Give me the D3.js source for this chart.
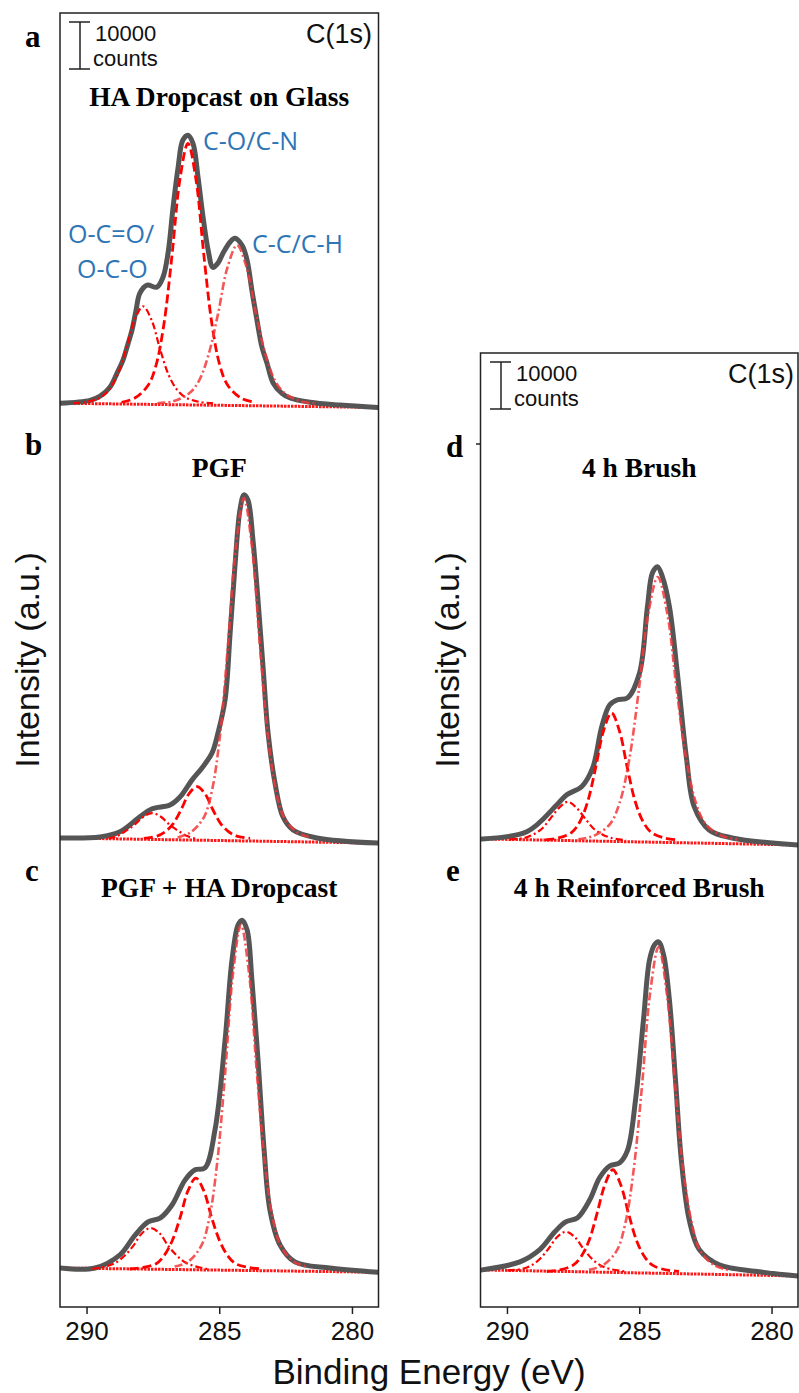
<!DOCTYPE html>
<html>
<head>
<meta charset="utf-8">
<script src="https://cdn.jsdelivr.net/npm/d3@7"></script>
<style>
  body { margin: 0; background: #fff; }
  svg { display: block; }
</style>
</head>
<body>
<script>
// ---- data (binding energy in eV, intensity in counts above each panel's zero) ----
const energyTicks = [290, 285, 280];
const panelLetters = ["a", "b", "c", "d", "e"];
const panelTitles = ["HA Dropcast on Glass", "PGF", "PGF + HA Dropcast", "4 h Brush", "4 h Reinforced Brush"];
const peakLabels = ["O-C=O/", "O-C-O", "C-O/C-N", "C-C/C-H"];
const scaleBarCounts = 10000;
// vertical stacking offset of each panel (counts)
const panelOffsets = [192300, 99800, 8300, 99600, 7900];

// measured envelopes
const envA = [[291.00,0],[289.87,600],[289.49,1500],[289.12,3400],[288.85,6400],[288.63,9100],[288.44,12600],[288.29,15500],[288.14,19600],[287.99,23400],[287.72,25100],[287.35,24700],[287.12,26800],[286.93,31900],[286.74,41700],[286.55,50200],[286.37,56000],[286.18,57000],[285.99,55300],[285.80,48100],[285.61,39600],[285.42,32600],[285.24,28900],[285.05,29800],[284.86,31900],[284.59,34300],[284.41,35100],[284.14,33600],[283.95,30400],[283.77,24000],[283.58,17700],[283.39,11900],[283.20,8500],[282.97,4300],[282.64,2100],[282.33,1100],[281.58,200],[280.45,-400],[279.02,-900]];
const envB = [[291.00,0],[289.49,200],[288.74,1300],[287.99,4500],[287.53,6200],[286.86,7000],[286.48,8700],[286.03,12300],[285.65,14900],[285.27,18100],[285.05,22300],[284.78,29400],[284.59,43600],[284.41,57700],[284.22,69800],[284.07,73000],[283.92,71900],[283.73,63400],[283.54,50600],[283.35,36400],[283.16,22300],[282.90,11700],[282.60,4500],[282.22,1700],[281.32,0],[279.02,-1100]];
const envC = [[291.00,0],[289.68,0],[288.74,2800],[288.17,7000],[287.68,9800],[287.23,10600],[286.78,13400],[286.29,18700],[285.91,20900],[285.54,21300],[285.16,29400],[284.78,48500],[284.52,65500],[284.29,73000],[284.14,74000],[283.95,71900],[283.77,61300],[283.54,44300],[283.31,25100],[283.09,12300],[282.71,4900],[282.15,1300],[280.83,0],[279.02,-900]];
const envD = [[290.94,0],[289.25,1500],[288.12,7200],[287.74,9400],[287.18,11100],[286.76,15100],[286.42,23800],[286.12,28500],[285.82,29600],[285.44,30000],[284.99,35300],[284.69,49400],[284.50,56600],[284.31,57900],[284.12,55700],[283.86,49400],[283.56,35300],[283.22,17400],[282.92,6800],[282.36,1900],[281.49,200],[279.00,-1300]];
const envE = [[290.94,0],[289.51,1700],[288.76,4300],[288.19,8100],[287.78,10200],[287.33,11100],[286.87,14900],[286.50,19600],[286.12,22100],[285.74,22800],[285.44,25500],[285.14,36200],[284.84,53200],[284.61,66000],[284.42,69200],[284.27,69800],[284.08,67000],[283.86,57400],[283.63,40400],[283.41,23400],[283.11,10600],[282.73,4300],[281.98,1100],[280.47,-400],[279.00,-1300]];

// fitted components: O-C=O / O-C-O, C-O / C-N, C-C / C-H
const compA_OCO = [[290.50,0],[289.97,300],[289.45,1300],[289.13,3000],[288.82,6200],[288.50,11700],[288.19,17700],[287.87,20600],[287.55,17700],[287.24,11700],[286.92,6200],[286.61,3000],[286.29,1300],[285.77,300],[285.24,0]];
const compA_CO = [[288.68,200],[288.18,1100],[287.68,3800],[287.38,8100],[287.08,17000],[286.78,31500],[286.48,47700],[286.18,55300],[285.88,47700],[285.58,31500],[285.28,17000],[284.98,8100],[284.68,3800],[284.18,1100],[283.68,200]];
const compA_CC = [[287.33,0],[286.73,400],[286.13,2100],[285.77,4700],[285.41,10200],[285.05,18900],[284.69,28900],[284.33,33600],[283.97,28900],[283.61,18900],[283.25,10200],[282.89,4700],[282.53,2100],[281.93,400],[281.33,0]];

const compB_OCO = [[289.18,-100],[288.85,400],[288.52,1500],[288.19,2800],[287.86,4500],[287.53,5300],[287.20,4500],[286.87,2800],[286.54,1500],[286.21,400],[285.88,-200]];
const compB_CO = [[287.84,-100],[287.34,400],[287.04,1300],[286.74,3000],[286.44,6000],[286.14,9400],[285.84,10900],[285.54,9400],[285.24,6000],[284.94,3000],[284.64,1300],[284.34,400],[283.84,-100]];
const compB_CC = [[286.57,100],[286.07,1200],[285.57,4500],[285.27,10200],[284.97,21900],[284.67,41100],[284.37,62100],[284.07,72300],[283.77,62100],[283.47,41100],[283.17,21900],[282.87,10200],[282.57,4500],[282.07,1200],[281.57,100]];

const compC_OCO = [[289.78,-200],[289.23,400],[288.90,1100],[288.57,2600],[288.24,4700],[287.91,7400],[287.58,8500],[287.25,7400],[286.92,4700],[286.59,2600],[286.26,1100],[285.93,400],[285.38,-300]];
const compC_CO = [[288.38,-200],[287.88,100],[287.38,900],[287.08,2600],[286.78,5700],[286.48,10600],[286.18,16400],[285.88,19100],[285.58,16400],[285.28,10600],[284.98,5700],[284.68,2600],[284.38,900],[283.88,100],[283.38,-200]];
const compC_CC = [[286.68,300],[286.18,1300],[285.68,4700],[285.38,10400],[285.08,22300],[284.78,41300],[284.48,62800],[284.18,73000],[283.88,62800],[283.58,41300],[283.28,22300],[282.98,10400],[282.68,4700],[282.18,1300],[281.68,300]];

const compD_OCO = [[289.90,-100],[289.35,200],[289.02,900],[288.69,2100],[288.36,4300],[288.03,6600],[287.70,7900],[287.37,6600],[287.04,4300],[286.71,2100],[286.38,900],[286.05,200],[285.50,-300]];
const compD_CO = [[288.55,-200],[288.05,200],[287.55,1400],[287.25,3600],[286.95,7900],[286.65,15100],[286.35,23000],[286.05,26800],[285.75,23000],[285.45,15100],[285.15,7900],[284.85,3600],[284.55,1400],[284.05,200],[283.55,-200]];
const compD_CC = [[287.30,-100],[286.70,700],[286.10,3200],[285.74,7700],[285.38,16800],[285.02,31500],[284.66,47900],[284.30,55700],[283.94,47900],[283.58,31500],[283.22,16800],[282.86,7700],[282.50,3200],[281.90,700],[281.30,-100]];

const compE_OCO = [[289.97,-100],[289.42,200],[289.09,900],[288.76,2300],[288.43,4500],[288.10,7000],[287.77,8100],[287.44,7000],[287.11,4500],[286.78,2300],[286.45,900],[286.12,200],[285.57,-300]];
const compE_CO = [[288.50,-300],[288.00,0],[287.50,1000],[287.20,2800],[286.90,6200],[286.60,11900],[286.30,18100],[286.00,21300],[285.70,18100],[285.40,11900],[285.10,6200],[284.80,2800],[284.50,1000],[284.00,0],[283.50,-300]];
const compE_CC = [[286.90,0],[286.37,1000],[285.85,4100],[285.53,9800],[285.22,20900],[284.90,38900],[284.59,58900],[284.27,68700],[283.96,58900],[283.64,38900],[283.33,20900],[283.01,9800],[282.70,4100],[282.17,1000],[281.65,0]];

// backgrounds
const bgA = [[291,0],[279,-900]];
const bgB = [[291,0],[279,-1100]];
const bgC = [[291,0],[279,-900]];
const bgD = [[291,0],[279,-1300]];
const bgE = [[291,0],[279,-1300]];

// ---- layout ----
const W = 799, H = 1393;
const PX_PER_10K = 47;

const columns = [
  { x0: 60, x1: 378.5, top: 13, bottom: 1307, letterX: 25, barX: 80, cLabelX: 372, intensityX: 39 },
  { x0: 480.5, x1: 798, top: 353, bottom: 1307, letterX: 446, barX: 501, cLabelX: 794, intensityX: 459 }
];

const panels = [
  { col: 0, env: envA, comps: [compA_OCO, compA_CO, compA_CC], bg: bgA, letterY: 47, titleY: 106 },
  { col: 0, env: envB, comps: [compB_OCO, compB_CO, compB_CC], bg: bgB, letterY: 455, titleY: 477 },
  { col: 0, env: envC, comps: [compC_OCO, compC_CO, compC_CC], bg: bgC, letterY: 881, titleY: 897 },
  { col: 1, env: envD, comps: [compD_OCO, compD_CO, compD_CC], bg: bgD, letterY: 457, titleY: 477 },
  { col: 1, env: envE, comps: [compE_OCO, compE_CO, compE_CC], bg: bgE, letterY: 881, titleY: 897 }
];

const compStyles = [
  { stroke: "#ff0000", width: 2.2, dash: "7,3,2,3", opacity: 1 },
  { stroke: "#ff0000", width: 2.8, dash: "9,4", opacity: 1 },
  { stroke: "#f23a3a", width: 2.6, dash: "8,3,2,3", opacity: 0.85 }
];

const svg = d3.select("body").append("svg")
  .attr("width", W)
  .attr("height", H)
  .style("font-family", "'Liberation Sans', Arial, sans-serif");

columns.forEach((c, ci) => {
  const maxCounts = (c.bottom - c.top) / PX_PER_10K * scaleBarCounts;
  c.x = d3.scaleLinear().domain([291, 279]).range([c.x0, c.x1]);
  c.y = d3.scaleLinear().domain([0, maxCounts]).range([c.bottom, c.top]);

  svg.append("clipPath").attr("id", "clip" + ci)
    .append("rect")
    .attr("x", c.x0).attr("y", c.top)
    .attr("width", c.x1 - c.x0).attr("height", c.bottom - c.top);

  c.g = svg.append("g").attr("clip-path", `url(#clip${ci})`);
});

panels.forEach((p, i) => {
  const c = columns[p.col];
  const off = panelOffsets[i];
  const line = d3.line()
    .x(d => c.x(d[0]))
    .y(d => c.y(d[1] + off))
    .curve(d3.curveCatmullRom.alpha(0.5));

  // background
  c.g.append("path")
    .attr("d", d3.line().x(d => c.x(d[0])).y(d => c.y(d[1] + off))(p.bg))
    .attr("fill", "none")
    .attr("stroke", "#ff1a1a")
    .attr("stroke-width", 3)
    .attr("stroke-dasharray", "2.5,1");

  // envelope
  c.g.append("path")
    .attr("d", line(p.env))
    .attr("fill", "none")
    .attr("stroke", "#555")
    .attr("stroke-width", 5)
    .attr("stroke-linejoin", "round")
    .attr("stroke-linecap", "round");

  // components
  p.comps.forEach((comp, k) => {
    const s = compStyles[k];
    c.g.append("path")
      .attr("d", line(comp))
      .attr("fill", "none")
      .attr("stroke", s.stroke)
      .attr("stroke-width", s.width)
      .attr("stroke-dasharray", s.dash)
      .attr("opacity", s.opacity);
  });

  // panel letter
  svg.append("text")
    .attr("x", c.letterX).attr("y", p.letterY)
    .style("font-family", "'Liberation Serif', 'Times New Roman', serif")
    .style("font-weight", "bold")
    .style("font-size", "31px")
    .text(panelLetters[i]);

  // panel title
  svg.append("text")
    .attr("x", (c.x0 + c.x1) / 2).attr("y", p.titleY)
    .attr("text-anchor", "middle")
    .style("font-family", "'Liberation Serif', 'Times New Roman', serif")
    .style("font-weight", "bold")
    .style("font-size", "27.5px")
    .text(panelTitles[i]);
});

// frames, axes, scale bars
columns.forEach(c => {
  svg.append("rect")
    .attr("x", c.x0).attr("y", c.top)
    .attr("width", c.x1 - c.x0).attr("height", c.bottom - c.top)
    .attr("fill", "none")
    .attr("stroke", "#222")
    .attr("stroke-width", 1.5);

  const ax = svg.append("g")
    .attr("transform", `translate(0,${c.bottom})`)
    .call(d3.axisBottom(c.x).tickValues(energyTicks).tickSize(7).tickSizeOuter(0).tickPadding(8));
  ax.select(".domain").remove();
  ax.selectAll(".tick line").attr("stroke", "#222").attr("stroke-width", 1.5);
  ax.selectAll(".tick text")
    .style("font-family", "'Liberation Sans', Arial, sans-serif")
    .style("font-size", "26px")
    .attr("fill", "#111");

  // 10000 counts bar
  const yTop = c.top + 9;
  const yBot = yTop + (c.y(0) - c.y(scaleBarCounts));
  const bar = svg.append("g").attr("stroke", "#222").attr("stroke-width", 1.5);
  bar.append("line").attr("x1", c.barX).attr("x2", c.barX).attr("y1", yTop).attr("y2", yBot);
  bar.append("line").attr("x1", c.barX - 11).attr("x2", c.barX + 10).attr("y1", yTop).attr("y2", yTop);
  bar.append("line").attr("x1", c.barX - 11).attr("x2", c.barX + 10).attr("y1", yBot).attr("y2", yBot);
  svg.append("text").attr("x", c.barX + 15).attr("y", c.top + 28)
    .style("font-size", "22px").attr("fill", "#111")
    .text(d3.format("d")(scaleBarCounts));
  svg.append("text").attr("x", c.barX + 13).attr("y", c.top + 53)
    .style("font-size", "22px").attr("fill", "#111")
    .text("counts");

  svg.append("text").attr("x", c.cLabelX).attr("y", c.top + 30)
    .attr("text-anchor", "end")
    .style("font-size", "27px").attr("fill", "#111").text("C(1s)");

  svg.append("text")
    .attr("transform", `translate(${c.intensityX},660) rotate(-90)`)
    .attr("text-anchor", "middle")
    .style("font-size", "34px").attr("fill", "#111")
    .text("Intensity (a.u.)");
});

// small left tick on right column
svg.append("line").attr("x1", 476).attr("x2", 480.5).attr("y1", 444).attr("y2", 444)
  .attr("stroke", "#222").attr("stroke-width", 1.5);

// peak assignment labels (panel a)
const labelPos = [[68, 243], [77, 278], [203, 150], [252, 253]];
svg.selectAll("text.peak")
  .data(peakLabels)
  .join("text")
  .attr("class", "peak")
  .attr("x", (d, i) => labelPos[i][0])
  .attr("y", (d, i) => labelPos[i][1])
  .style("font-family", "'Open Sans', 'Noto Sans', sans-serif")
  .style("font-size", "25px")
  .attr("fill", "#2e75b6")
  .text(d => d);

// x axis title
svg.append("text")
  .attr("x", 429).attr("y", 1384)
  .attr("text-anchor", "middle")
  .style("font-size", "35px").attr("fill", "#111")
  .text("Binding Energy (eV)");
</script>
</body>
</html>
